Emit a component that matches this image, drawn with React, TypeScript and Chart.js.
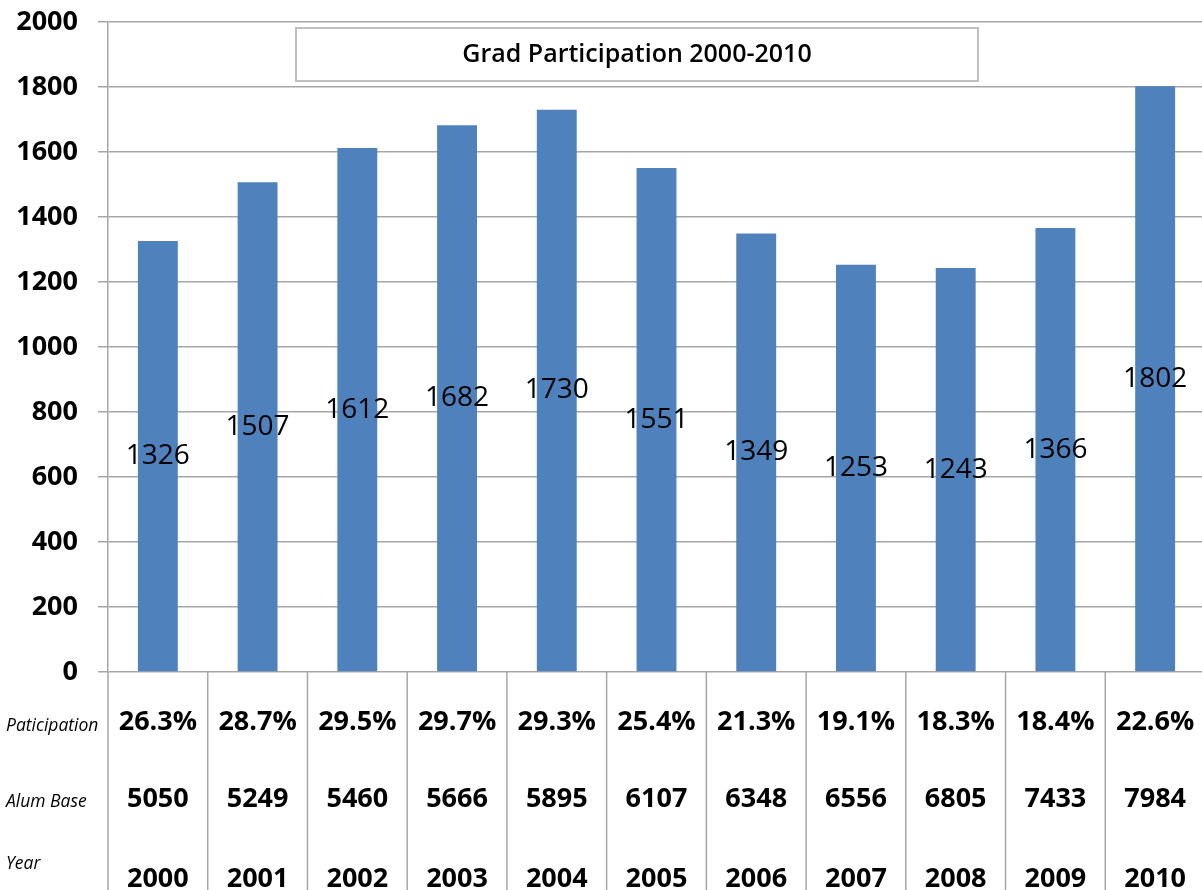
import React, { useEffect, useRef } from "react";
import { Chart, registerables } from "chart.js";

Chart.register(...registerables);

const years = ["2000", "2001", "2002", "2003", "2004", "2005", "2006", "2007", "2008", "2009", "2010"];
const gradCounts = [1326, 1507, 1612, 1682, 1730, 1551, 1349, 1253, 1243, 1366, 1802];
const participation = ["26.3%", "28.7%", "29.5%", "29.7%", "29.3%", "25.4%", "21.3%", "19.1%", "18.3%", "18.4%", "22.6%"];
const alumBase = ["5050", "5249", "5460", "5666", "5895", "6107", "6348", "6556", "6805", "7433", "7984"];
const rowLabels = ["Paticipation", "Alum Base", "Year"];
const chartTitle = "Grad Participation 2000-2010";

const GRID = "#A6A6A6";
const FONT = "'Open Sans', 'Noto Sans', sans-serif";

const overlayPlugin = {
  id: "overlay",
  afterDatasetsDraw(chart: any) {
    const ctx = chart.ctx;
    const meta = chart.getDatasetMeta(0);
    ctx.save();
    ctx.font = `normal 28px ${FONT}`;
    ctx.fillStyle = "#000";
    ctx.textAlign = "center";
    ctx.textBaseline = "middle";
    meta.data.forEach((bar: any, i: number) => {
      const y = (bar.y + bar.base) / 2;
      ctx.fillText(String(gradCounts[i]), bar.x, y);
    });
    ctx.restore();
  },
  afterDraw(chart: any) {
    const ctx = chart.ctx;
    const area = chart.chartArea;
    const xs = chart.scales.x;
    const n = years.length;
    const catW = (area.right - area.left) / n;
    ctx.save();
    // title box
    ctx.strokeStyle = "#BFBFBF";
    ctx.lineWidth = 2;
    ctx.fillStyle = "#fff";
    ctx.fillRect(296, 28, 682, 53);
    ctx.strokeRect(296, 28, 682, 53);
    ctx.fillStyle = "#000";
    ctx.font = `600 25px ${FONT}`;
    ctx.textAlign = "center";
    ctx.textBaseline = "middle";
    ctx.fillText(chartTitle, 637, 55);

    // table vertical lines
    ctx.strokeStyle = GRID;
    ctx.lineWidth = 1.5;
    for (let i = 0; i <= n; i++) {
      const x = area.left + i * catW;
      ctx.beginPath();
      ctx.moveTo(x, area.bottom);
      ctx.lineTo(x, chart.height);
      ctx.stroke();
    }
    // table values
    ctx.fillStyle = "#000";
    ctx.font = `bold 27px ${FONT}`;
    ctx.textAlign = "center";
    ctx.textBaseline = "middle";
    for (let i = 0; i < n; i++) {
      const cx = xs.getPixelForValue(i);
      ctx.fillText(participation[i], cx, 722);
      ctx.fillText(alumBase[i], cx, 799);
      ctx.fillText(years[i], cx, 879);
    }
    // row labels
    ctx.font = `italic 17.5px ${FONT}`;
    ctx.textAlign = "left";
    ctx.fillText(rowLabels[0], 6, 726);
    ctx.fillText(rowLabels[1], 6, 802);
    ctx.fillText(rowLabels[2], 6, 864);
    ctx.restore();
  },
};

export default function App() {
  const ref = useRef<HTMLCanvasElement>(null);
  useEffect(() => {
    document.body.style.margin = "0";
    const canvas = ref.current!;
    const chart = new Chart(canvas, {
      type: "bar",
      data: {
        labels: years,
        datasets: [
          {
            data: gradCounts,
            backgroundColor: "#4F81BD",
            borderWidth: 0,
            barPercentage: 0.4,
            categoryPercentage: 1,
          },
        ],
      },
      options: {
        animation: false,
        responsive: false,
        layout: { padding: { top: 22, bottom: 218, left: 0, right: 0 } },
        plugins: { legend: { display: false }, tooltip: { enabled: false }, title: { display: false } },
        scales: {
          x: { display: false },
          y: {
            min: 0,
            max: 2000,
            ticks: {
              stepSize: 200,
              padding: 20,
              color: "#000",
              font: { family: FONT, size: 27, weight: "bold" },
              callback: (v: any) => String(v),
            },
            grid: { color: GRID, lineWidth: 1.5, tickLength: 10 },
            border: { color: GRID, width: 1.5 },
            afterFit: (scale: any) => {
              scale.width = 108;
              scale.paddingTop = 0;
              scale.paddingBottom = 0;
            },
          },
        },
      },
      plugins: [overlayPlugin],
    });
    return () => chart.destroy();
  }, []);
  return (
    <div style={{ width: 1202, height: 890, overflow: "hidden", background: "#fff" }}>
      <canvas ref={ref} width={1205} height={890} style={{ display: "block" }} />
    </div>
  );
}
